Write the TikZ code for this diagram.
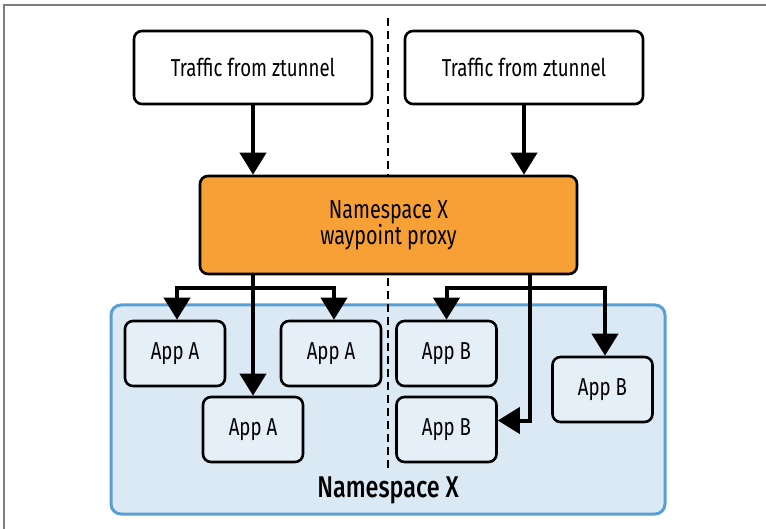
\documentclass[tikz,border=0pt]{standalone}
\usepackage{fontspec}
\setmainfont{Fira Sans}[FakeStretch=0.76]
\newfontfamily\labelfont{Fira Sans}[FakeStretch=0.76]
\newfontfamily\titlefont{Fira Sans Medium}[FakeStretch=0.78]
\usetikzlibrary{arrows.meta}
\definecolor{proxyorange}{RGB}{247,160,54}
\definecolor{nsfill}{RGB}{218,233,244}
\definecolor{nsborder}{RGB}{88,160,211}
\definecolor{appfill}{RGB}{228,239,248}
\definecolor{framegray}{RGB}{125,125,125}
\tikzset{
  box/.style={draw=black, line width=2.6pt, rounded corners=8pt, align=center,
    font=\labelfont\fontsize{24.5}{26}\selectfont, inner sep=0pt},
  srcbox/.style={box, fill=white, minimum width=238pt, minimum height=73pt},
  proxybox/.style={box, fill=proxyorange, minimum width=377pt, minimum height=98pt,
    font=\labelfont\fontsize{26}{26}\selectfont},
  appbox/.style={box, fill=appfill, minimum width=100pt, minimum height=65pt},
  nsbox/.style={draw=nsborder, fill=nsfill, line width=3pt, rounded corners=10pt,
    minimum width=554pt, minimum height=209pt, inner sep=0pt},
  flow/.style={line width=4pt, -{Triangle[width=26pt,length=22pt]}},
  divider/.style={line width=2pt, dash pattern=on 8pt off 5pt}
}
\begin{document}
\begin{tikzpicture}[x=1pt, y=-1pt]
\useasboundingbox (0,0) rectangle (766,529);

% frame edges
\draw[framegray, line width=1.6pt] (4,529) -- (4,5) -- (766,5);

% namespace area
\node[nsbox] (ns) at (388,409.5) {};
\node[font=\titlefont\fontsize{30}{32}\selectfont] (nslabel) at (388,490) {Namespace X};

% divider between the two app groups
\coordinate (dtop) at (388,18);
\coordinate (dbot) at (388,470);
\draw[divider] (dtop) -- (dbot);

% sources and proxy
\node[srcbox] (tl) at (253,67.5) {Traffic from ztunnel};
\node[srcbox] (tr) at (524,67.5) {Traffic from ztunnel};
\node[proxybox] (proxy) at (388.5,225) {Namespace X\\waypoint proxy};

% workloads
\node[appbox] (a1) at (175,353.5) {App A};
\node[appbox] (a2) at (331,353.5) {App A};
\node[appbox] (a3) at (253,429.5) {App A};
\node[appbox] (b1) at (446.5,353.5) {App B};
\node[appbox] (b2) at (446.5,429.5) {App B};
\node[appbox] (b3) at (602.5,389.5) {App B};

% incoming traffic
\draw[flow] (tl.south) -- (tl.south |- proxy.north);
\draw[flow] (tr.south) -- (tr.south |- proxy.north);

% fan-out to App A
\coordinate (ja) at (253,288);
\draw[flow] (proxy.south -| a3.north) -- (a3.north);
\draw[flow] (ja) -| ([xshift=2pt]a1.north);
\draw[flow] (ja) -| ([xshift=3pt]a2.north);

% fan-out to App B
\coordinate (jb) at (530,288);
\draw[flow] (proxy.south -| jb) |- ([yshift=9pt]b2.east);
\draw[flow] (jb) -| (b1.north);
\draw[flow] (jb) -| ([xshift=2.5pt]b3.north);
\end{tikzpicture}
\end{document}
